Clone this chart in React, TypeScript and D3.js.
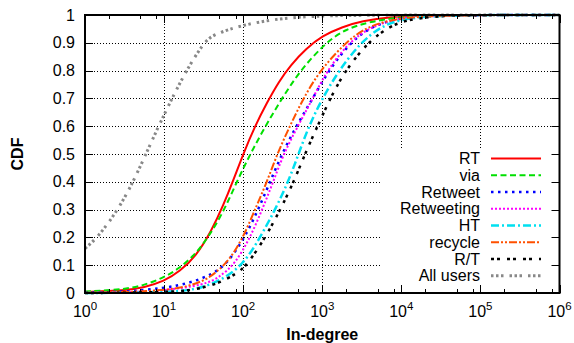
import React from 'react';
import * as d3 from 'd3';

// CDF readings [in-degree, cdf] per hashtag/convention
const rt: [number, number][] = [[1, 0.004], [3.2, 0.009], [5.6, 0.02], [10, 0.042], [15.8, 0.078], [25, 0.13], [40, 0.225], [56, 0.315], [75, 0.405], [100, 0.5], [141, 0.6], [200, 0.685], [282, 0.76], [398, 0.82], [631, 0.88], [1000, 0.925], [1778, 0.957], [3162, 0.978], [7244, 0.994], [20000, 0.999], [1e5, 1], [1e6, 1]];
const via: [number, number][] = [[1, 0.005], [3.2, 0.013], [5.6, 0.028], [10, 0.056], [15.8, 0.09], [25, 0.14], [36, 0.2], [56, 0.29], [83, 0.4], [123, 0.5], [191, 0.6], [309, 0.7], [525, 0.8], [1096, 0.9], [1995, 0.95], [3981, 0.976], [10000, 0.993], [31623, 0.999], [1e5, 1], [1e6, 1]];
const retweet: [number, number][] = [[1, 0.001], [3.2, 0.004], [10, 0.017], [21.4, 0.036], [41.7, 0.068], [64.6, 0.11], [105, 0.2], [155, 0.3], [219, 0.4], [309, 0.5], [468, 0.6], [759, 0.7], [1202, 0.8], [2239, 0.9], [3981, 0.955], [7943, 0.985], [19953, 0.997], [1e5, 1], [1e6, 1]];
const retweeting: [number, number][] = [[1, 0.001], [3.2, 0.002], [10, 0.008], [33.1, 0.03], [50.1, 0.057], [79.4, 0.105], [123, 0.2], [174, 0.3], [240, 0.4], [324, 0.5], [490, 0.6], [759, 0.7], [1148, 0.8], [2138, 0.9], [3981, 0.955], [7943, 0.985], [19953, 0.997], [1e5, 1], [1e6, 1]];
const ht: [number, number][] = [[1, 0], [10, 0.002], [25.1, 0.011], [50.1, 0.042], [100, 0.1], [164, 0.2], [254, 0.3], [372, 0.4], [501, 0.5], [676, 0.6], [1000, 0.7], [1622, 0.8], [3020, 0.9], [5623, 0.96], [10000, 0.985], [25119, 0.997], [1e5, 1], [1e6, 1]];
const recycle: [number, number][] = [[1, 0.001], [3.2, 0.003], [10, 0.01], [17.8, 0.02], [33.1, 0.045], [46.8, 0.077], [67.6, 0.12], [100, 0.2], [141, 0.3], [200, 0.4], [269, 0.5], [389, 0.6], [575, 0.7], [933, 0.8], [1950, 0.9], [3548, 0.955], [7079, 0.982], [15849, 0.995], [1e5, 1], [1e6, 1]];
const rSlashT: [number, number][] = [[1, 0], [10, 0.002], [23.4, 0.01], [46.8, 0.032], [83.2, 0.07], [112, 0.1], [191, 0.2], [295, 0.3], [437, 0.4], [603, 0.5], [871, 0.6], [1259, 0.7], [1950, 0.8], [3715, 0.9], [7079, 0.96], [12589, 0.985], [31623, 0.997], [1e5, 1], [1e6, 1]];
const allUsers: [number, number][] = [[1, 0.16], [1.45, 0.2], [2.63, 0.3], [4.07, 0.4], [5.89, 0.5], [8.51, 0.6], [12.6, 0.7], [19.1, 0.8], [31.6, 0.9], [41.7, 0.93], [100, 0.965], [295, 0.988], [794, 0.996], [3162, 1], [1e6, 1]];

const names = ['RT', 'via', 'Retweet', 'Retweeting', 'HT', 'recycle', 'R/T', 'All users'];
const seriesData = [rt, via, retweet, retweeting, ht, recycle, rSlashT, allUsers];
const yTicks = [0, 0.1, 0.2, 0.3, 0.4, 0.5, 0.6, 0.7, 0.8, 0.9, 1];
const xDecades = [0, 1, 2, 3, 4, 5, 6];

const colors = ['#ff0000', '#00e000', '#0000ff', '#ff00ff', '#00e0f0', '#ff5000', '#000000', '#888888'];
const dashes = ['none', '6,3.5', '2.5,4.5', '2,2', '8,3,2,3', '8,2,2,2,2,2', '3,3,3,7', '2.5,2.5,2.5,2.5,2.5,6'];
const widths = [2, 2, 2.5, 2, 2.5, 2, 2.5, 3];

const W = 574;
const H = 343;
const left = 85;
const right = 559.5;
const top = 15;
const bottom = 293;
const font = '"Liberation Sans", Arial, Helvetica, sans-serif';

export default function App() {
  const x = d3.scaleLog().domain([1, 1e6]).range([left, right]);
  const y = d3.scaleLinear().domain([0, 1]).range([bottom, top]);
  const line = d3.line<[number, number]>()
    .x(d => x(d[0]))
    .y(d => y(d[1]))
    .curve(d3.curveBasis);

  const minor: number[] = [];
  xDecades.slice(0, -1).forEach(k => [2, 5, 8].forEach(m => minor.push(m * Math.pow(10, k))));

  const legX0 = 491;
  const legX1 = 541;
  const legTextX = 480;
  const legY0 = 158.5;
  const legStep = 16.75;

  return (
    <svg width={W} height={H} style={{ position: 'absolute', left: 0, top: 0, background: '#fff' }}
      fontFamily={font}>
      {/* grid */}
      <g stroke="#000" strokeWidth={1} strokeDasharray="1,2">
        {xDecades.slice(1, -1).map(k => (
          <line key={'gx' + k} x1={Math.round(x(Math.pow(10, k))) + 0.5} x2={Math.round(x(Math.pow(10, k))) + 0.5} y1={top} y2={bottom} />
        ))}
        {yTicks.slice(1, -1).map(t => (
          <line key={'gy' + t} x1={left} x2={right} y1={Math.round(y(t)) + 0.5} y2={Math.round(y(t)) + 0.5} />
        ))}
      </g>
      {/* legend box (opaque) */}
      <rect x={380} y={150} width={right - 380} height={bottom - 150} fill="#fff" />
      {/* curves */}
      <g fill="none">
        {seriesData.map((d, i) => (
          <path key={names[i]} d={line(d) || ''} stroke={colors[i]} strokeWidth={widths[i]}
            strokeDasharray={dashes[i]} />
        ))}
      </g>
      {/* legend */}
      {names.map((n, i) => {
        const ly = legY0 + i * legStep;
        return (
          <g key={'leg' + n}>
            <text x={legTextX} y={ly} dy="0.35em" textAnchor="end" fontSize={16} fill="#000">{n}</text>
            <line x1={legX0} x2={legX1} y1={ly} y2={ly} stroke={colors[i]} strokeWidth={widths[i]} strokeDasharray={dashes[i]} />
          </g>
        );
      })}
      {/* ticks */}
      <g stroke="#000" strokeWidth={1}>
        {xDecades.map(k => {
          const px = Math.round(x(Math.pow(10, k))) + 0.5;
          return (
            <g key={'tx' + k}>
              <line x1={px} x2={px} y1={bottom} y2={bottom - 8} />
              <line x1={px} x2={px} y1={top} y2={top + 8} />
            </g>
          );
        })}
        {minor.map(v => {
          const px = Math.round(x(v)) + 0.5;
          return (
            <g key={'mx' + v}>
              <line x1={px} x2={px} y1={bottom} y2={bottom - 4} />
              <line x1={px} x2={px} y1={top} y2={top + 4} />
            </g>
          );
        })}
        {yTicks.map(t => {
          const py = Math.round(y(t)) + 0.5;
          return (
            <g key={'ty' + t}>
              <line x1={left} x2={left + 8} y1={py} y2={py} />
              <line x1={right} x2={right - 8} y1={py} y2={py} />
            </g>
          );
        })}
      </g>
      {/* border */}
      <rect x={left} y={top} width={right - left} height={bottom - top} fill="none" stroke="#000" strokeWidth={2} />
      {/* tick labels */}
      {yTicks.map(t => (
        <text key={'ly' + t} x={75} y={y(t)} dy="0.35em" textAnchor="end" fontSize={16} fill="#000">
          {d3.format('')(t)}
        </text>
      ))}
      {xDecades.map(k => (
        <text key={'lx' + k} x={x(Math.pow(10, k))} y={317} textAnchor="middle" fontSize={16} fill="#000">
          <tspan>10</tspan>
          <tspan dy={-7} fontSize={11.5}>{k}</tspan>
        </text>
      ))}
      {/* axis titles */}
      <text x={(left + right) / 2} y={340} textAnchor="middle" fontSize={16} fontWeight="bold">In-degree</text>
      <text transform={`translate(23,${(top + bottom) / 2}) rotate(-90)`} textAnchor="middle" fontSize={16}
        fontWeight="bold">CDF</text>
    </svg>
  );
}
